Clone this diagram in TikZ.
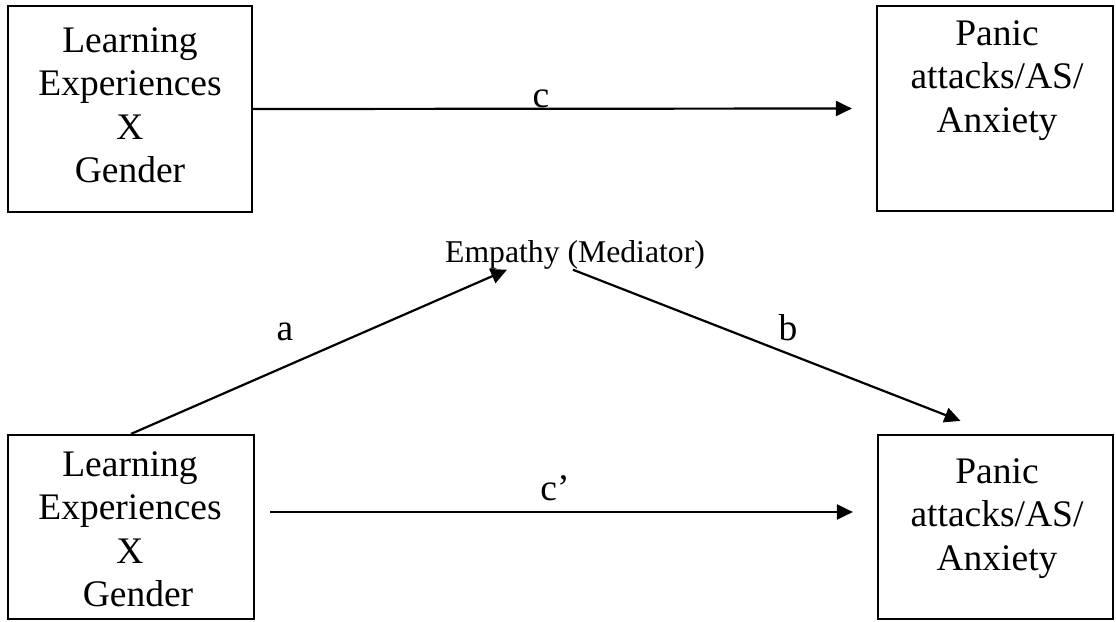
\documentclass[tikz,border=0pt]{standalone}
\usepackage{fontspec}
\setmainfont{Liberation Serif}
\usetikzlibrary{arrows.meta}
\begin{document}
\begin{tikzpicture}[x=1pt,y=-1pt,
  box/.style={draw, line width=2.2pt, inner sep=0pt},
  txt/.style={inner sep=0pt, align=center, font=\fontsize{37.5}{43.5}\selectfont, anchor=north},
  lbl/.style={inner sep=0pt, font=\fontsize{37.5}{43.5}\selectfont, anchor=base},
  conn/.style={line width=2.2pt, -{Triangle[length=16pt,width=15pt]}}]
\useasboundingbox (0,0) rectangle (1116,621);
% boxes
\node[box, minimum width=244pt, minimum height=206pt] (tl) at (130,109) {};
\node[box, minimum width=236pt, minimum height=205pt] (tr) at (995,108.5) {};
\node[box, minimum width=246pt, minimum height=184pt] (bl) at (131,527) {};
\node[box, minimum width=235pt, minimum height=184pt] (br) at (995.5,527) {};
% box texts
\node[txt] (tltext) at (130,21.5) {\strut Learning\\Experiences\\X\\Gender};
\node[txt] (trtext) at (997,14.5) {\strut Panic\\attacks/AS/\\Anxiety};
\node[txt] (bltext) at (130,445.5) {\strut Learning\\Experiences\\X\\\hspace*{16pt}Gender};
\node[txt] (brtext) at (997,452.5) {\strut Panic\\attacks/AS/\\Anxiety};
% mediator
\node[inner sep=0pt, anchor=base, font=\fontsize{31.7}{38}\selectfont] (emp) at (575,262.7) {Empathy (Mediator)};
% connectors
\draw[conn] (tl.east) -- ([xshift=-24pt]tr.west);
\draw[conn] ([xshift=15pt,yshift=15pt]bl.east) -- ([xshift=-24pt,yshift=15pt]br.west);
\draw[conn] (bl.north) -- ([xshift=-68pt]emp.south);
\draw[conn] ([xshift=-2pt]emp.south) -- ([xshift=-35pt,yshift=13pt]br.north);
% labels
\node[lbl] (lc) at (541,107) {c};
\node[lbl] (la) at (285,340) {a};
\node[lbl] (lb) at (788,340) {b};
\node[lbl] (lcp) at (555,500) {c’};
\end{tikzpicture}
\end{document}
